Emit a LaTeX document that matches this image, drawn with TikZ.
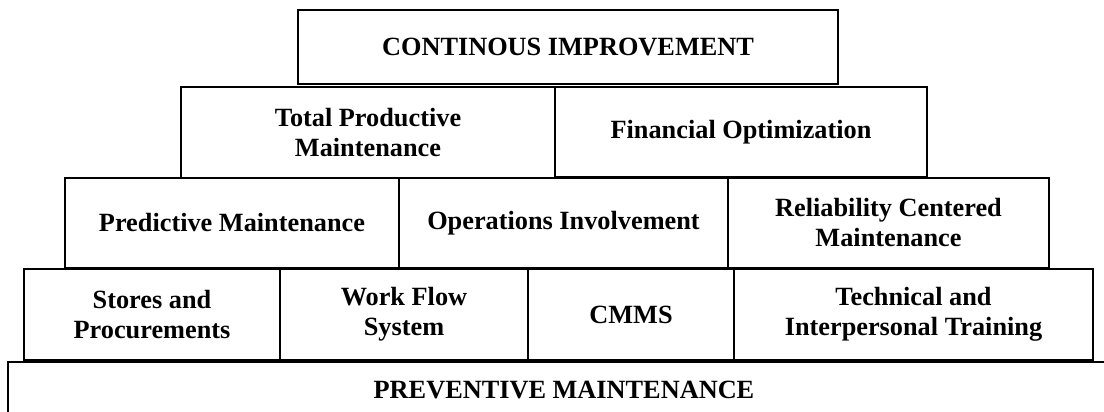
\documentclass[tikz,border=0pt]{standalone}
\usepackage{fontspec}
\setmainfont{Liberation Serif}
\begin{document}
\begin{tikzpicture}[x=1pt,y=-1pt,
  block/.style={draw=black, line width=2.6pt, fill=white, inner sep=0pt, outer sep=0pt,
    align=center, font=\bfseries\fontsize{26.3}{30}\selectfont},
  label/.style={inner sep=0pt, align=center, font=\bfseries\fontsize{26.3}{30}\selectfont}]
\useasboundingbox (0,0) rectangle (1104,412);
\clip (0,0) rectangle (1104,412);

% base layer
\node[block, minimum width=1112pt, minimum height=80pt] (pm) at (564,402) {};
\node[label] (pmtext) at (564,390) {PREVENTIVE MAINTENANCE};

% fourth row
\node[block, minimum width=256pt, minimum height=91pt] (stores) at (152,314.5) {Stores and\\Procurements};
\node[block, minimum width=248pt, minimum height=91pt] (wf) at (404,314.5) {Work Flow\\System};
\node[block, minimum width=206pt, minimum height=91pt] (cmms) at (631,314.5) {CMMS};
\node[block, minimum width=359pt, minimum height=91pt] (tech) at (913.5,314.5) {Technical and\\Interpersonal Training};

% third row
\node[block, minimum width=334pt, minimum height=90pt] (pred) at (232,223) {Predictive Maintenance};
\node[block, minimum width=329pt, minimum height=90pt] (ops) at (563.5,223) {Operations Involvement};
\node[block, minimum width=321pt, minimum height=90pt] (rcm) at (888.5,223) {Reliability Centered\\Maintenance};

% second row
\node[block, minimum width=374pt, minimum height=91pt] (tpm) at (368,132.5) {Total Productive\\Maintenance};
\node[block, minimum width=372pt, minimum height=90pt] (fin) at (741,132) {Financial Optimization};

% top
\node[block, minimum width=540pt, minimum height=74pt] (ci) at (568,47) {CONTINOUS IMPROVEMENT};
\end{tikzpicture}
\end{document}
